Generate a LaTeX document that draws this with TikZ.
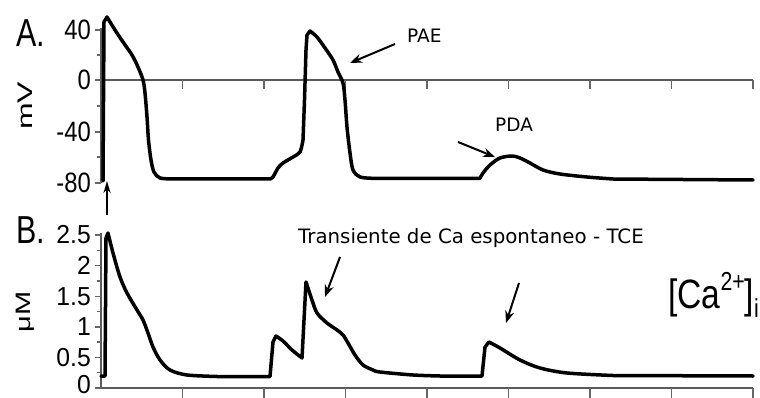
\documentclass[tikz,border=0pt]{standalone}
\usepackage{fontspec}
\usepackage{graphicx}
\usetikzlibrary{arrows.meta}
\newfontfamily\axfont{Liberation Sans}
\newfontfamily\annfont{DejaVu Sans}
\newcommand{\axnarrow}[1]{\scalebox{0.85}[1]{#1}}
\begin{document}
\begin{tikzpicture}[x=1pt,y=-1pt,
  trace/.style={line width=3.5pt, line join=round, line cap=round},
  axisline/.style={line width=1.6pt, draw=black!65},
  tickline/.style={line width=1.4pt, draw=black!60},
  ticklab/.style={anchor=east, inner sep=0pt, font=\axfont\fontsize{28}{28}\selectfont},
  ticklabB/.style={anchor=east, inner sep=0pt, font=\axfont\fontsize{26}{26}\selectfont},
  panellab/.style={anchor=base west, inner sep=0pt, font=\axfont\fontsize{39}{39}\selectfont},
  unitlab/.style={rotate=90, inner sep=0pt, font=\axfont\fontsize{32}{32}\selectfont},
  ann/.style={anchor=base west, inner sep=0pt, font=\annfont\fontsize{18.5}{18.5}\selectfont},
  annarrow/.style={line width=2pt, -{Stealth[length=12pt,width=9pt]}},
]
\useasboundingbox (0,0) rectangle (760,398);
\clip (0,0) rectangle (760,398);

% ---------- Panel A axes ----------
\draw[axisline] (101,28) -- (101,183);
\draw[axisline] (101,80) -- (753,80);
\foreach \yy in {30,80,132,183} \draw[tickline] (95,\yy) -- (101,\yy);
\foreach \yy in {55,106,157} \draw[tickline] (97,\yy) -- (101,\yy);
\foreach \xx in {182.5,264,345.5,427,508.5,590,671.5,753} \draw[tickline] (\xx,80) -- (\xx,89);

\node[ticklab] (a40) at (91,30) {\axnarrow{40}};
\node[ticklab] (a0) at (91,80) {\axnarrow{0}};
\node[ticklab] (am40) at (91,132) {\axnarrow{-40}};
\node[ticklab] (am80) at (91,183) {\axnarrow{-80}};
\node[panellab] (labA) at (16,47) {\scalebox{0.78}[1]{A.}};
\node[unitlab] (mV) at (25,106) {\scalebox{1}[0.66]{mV}};

% ---------- Panel B axes ----------
\draw[axisline] (101,233) -- (101,388);
\draw[axisline] (101,388) -- (753,388);
\foreach \yy in {235,265.6,296.2,326.8,357.4,388} \draw[tickline] (95,\yy) -- (101,\yy);
\foreach \yy in {250.3,280.9,311.5,342.1,372.7} \draw[tickline] (97,\yy) -- (101,\yy);
\foreach \xx in {182.5,264,345.5,427,508.5,590,671.5,753} \draw[tickline] (\xx,388) -- (\xx,398);

\node[ticklabB] (b25) at (91,235) {\scalebox{0.95}[1]{2.5}};
\node[ticklabB] (b2) at (91,265.6) {\scalebox{0.95}[1]{2}};
\node[ticklabB] (b15) at (91,296.2) {\scalebox{0.95}[1]{1.5}};
\node[ticklabB] (b1) at (91,326.8) {\scalebox{0.95}[1]{1}};
\node[ticklabB] (b05) at (91,357.4) {\scalebox{0.95}[1]{0.5}};
\node[ticklabB] (b0) at (91,385) {\scalebox{0.95}[1]{0}};
\node[panellab] (labB) at (16,243) {\scalebox{0.78}[1]{B.}};
\node[unitlab] (uM) at (25,312) {\scalebox{1}[0.72]{\fontsize{29}{29}\selectfont μM}};

\node[anchor=base west, inner sep=0pt, font=\axfont\fontsize{41}{41}\selectfont] (ca) at (668,308)
  {\scalebox{0.82}[1]{[Ca\raisebox{0.42em}{\fontsize{26}{26}\selectfont 2+}]\raisebox{-0.22em}{\fontsize{26}{26}\selectfont i}}};

% ---------- Trace A (membrane potential) ----------
\draw[trace] (103,181) -- (104,22) -- (107,17)
  -- plot[smooth,tension=0.5] coordinates {(107,17) (115,30) (123,42) (132,55) (138,67) (143,80) (145,93) (147,117) (148.5,140) (151,160) (154,172) (160,178) (173,179)}
  -- (270,179)
  -- plot[smooth,tension=0.5] coordinates {(270,179) (273,177) (278,168) (283,163) (293,157) (300,152) (303,140)}
  -- (304.5,100) -- (306,50) -- (307,35) -- (310,31)
  -- plot[smooth,tension=0.5] coordinates {(310,31) (317,37) (325,48) (333,60) (338,72) (343,83) (345,100) (347,127) (350,153) (353,170) (360,177) (373,178.3)}
  -- (480,178.3)
  -- plot[smooth,tension=0.5] coordinates {(480,178.3) (483,173) (490,165) (500,158) (512,156) (520,158) (530,163) (543,170) (560,174) (587,177) (613,179)}
  -- (753,180);

% ---------- Trace B (calcium) ----------
\draw[trace] (101,376) -- (105,376) -- (106,238) -- (108,233)
  -- plot[smooth,tension=0.5] coordinates {(108,233) (113,253) (120,277) (127,293) (137,310) (143,320) (148,333) (153,347) (160,360) (170,370) (187,375) (217,376.5)}
  -- (270,376.5) -- (273,342) -- (276,336)
  -- plot[smooth,tension=0.5] coordinates {(276,336) (283,341) (292,350) (302,358)}
  -- (306,282)
  -- plot[smooth,tension=0.5] coordinates {(306,282) (312,300) (317,313) (327,323) (337,330) (343,335) (348,343) (355,355) (363,365) (373,370) (380,372) (413,375) (440,376)}
  -- (482,376) -- (485,347) -- (489,342)
  -- plot[smooth,tension=0.5] coordinates {(489,342) (500,348) (520,360) (540,368) (567,373) (613,375.5)}
  -- (753,376);

% ---------- Stimulus arrow ----------
\coordinate (stimTail) at (107,215);
\coordinate (stimTip) at (107,181);
\draw[line width=1.5pt, -{Stealth[length=12pt,width=7pt]}] (stimTail) -- (stimTip);

% ---------- Annotations ----------
\node[ann] (pae) at (407,43) {PAE};
\node[ann] (pda) at (495,132) {PDA};
\node[ann, font=\annfont\fontsize{19.8}{19.8}\selectfont] (tce) at (298,243) {Transiente de Ca espontaneo - TCE};

\coordinate (paeTail) at (395,44);
\coordinate (paeTip) at (350,63);
\coordinate (pdaTail) at (458,142);
\coordinate (pdaTip) at (495,157);
\coordinate (tceTailA) at (340,257);
\coordinate (tceTipA) at (325,297);
\coordinate (tceTailB) at (519,283);
\coordinate (tceTipB) at (506,323);
\draw[annarrow] (paeTail) -- (paeTip);
\draw[annarrow] (pdaTail) -- (pdaTip);
\draw[annarrow] (tceTailA) -- (tceTipA);
\draw[annarrow] (tceTailB) -- (tceTipB);
\end{tikzpicture}
\end{document}
